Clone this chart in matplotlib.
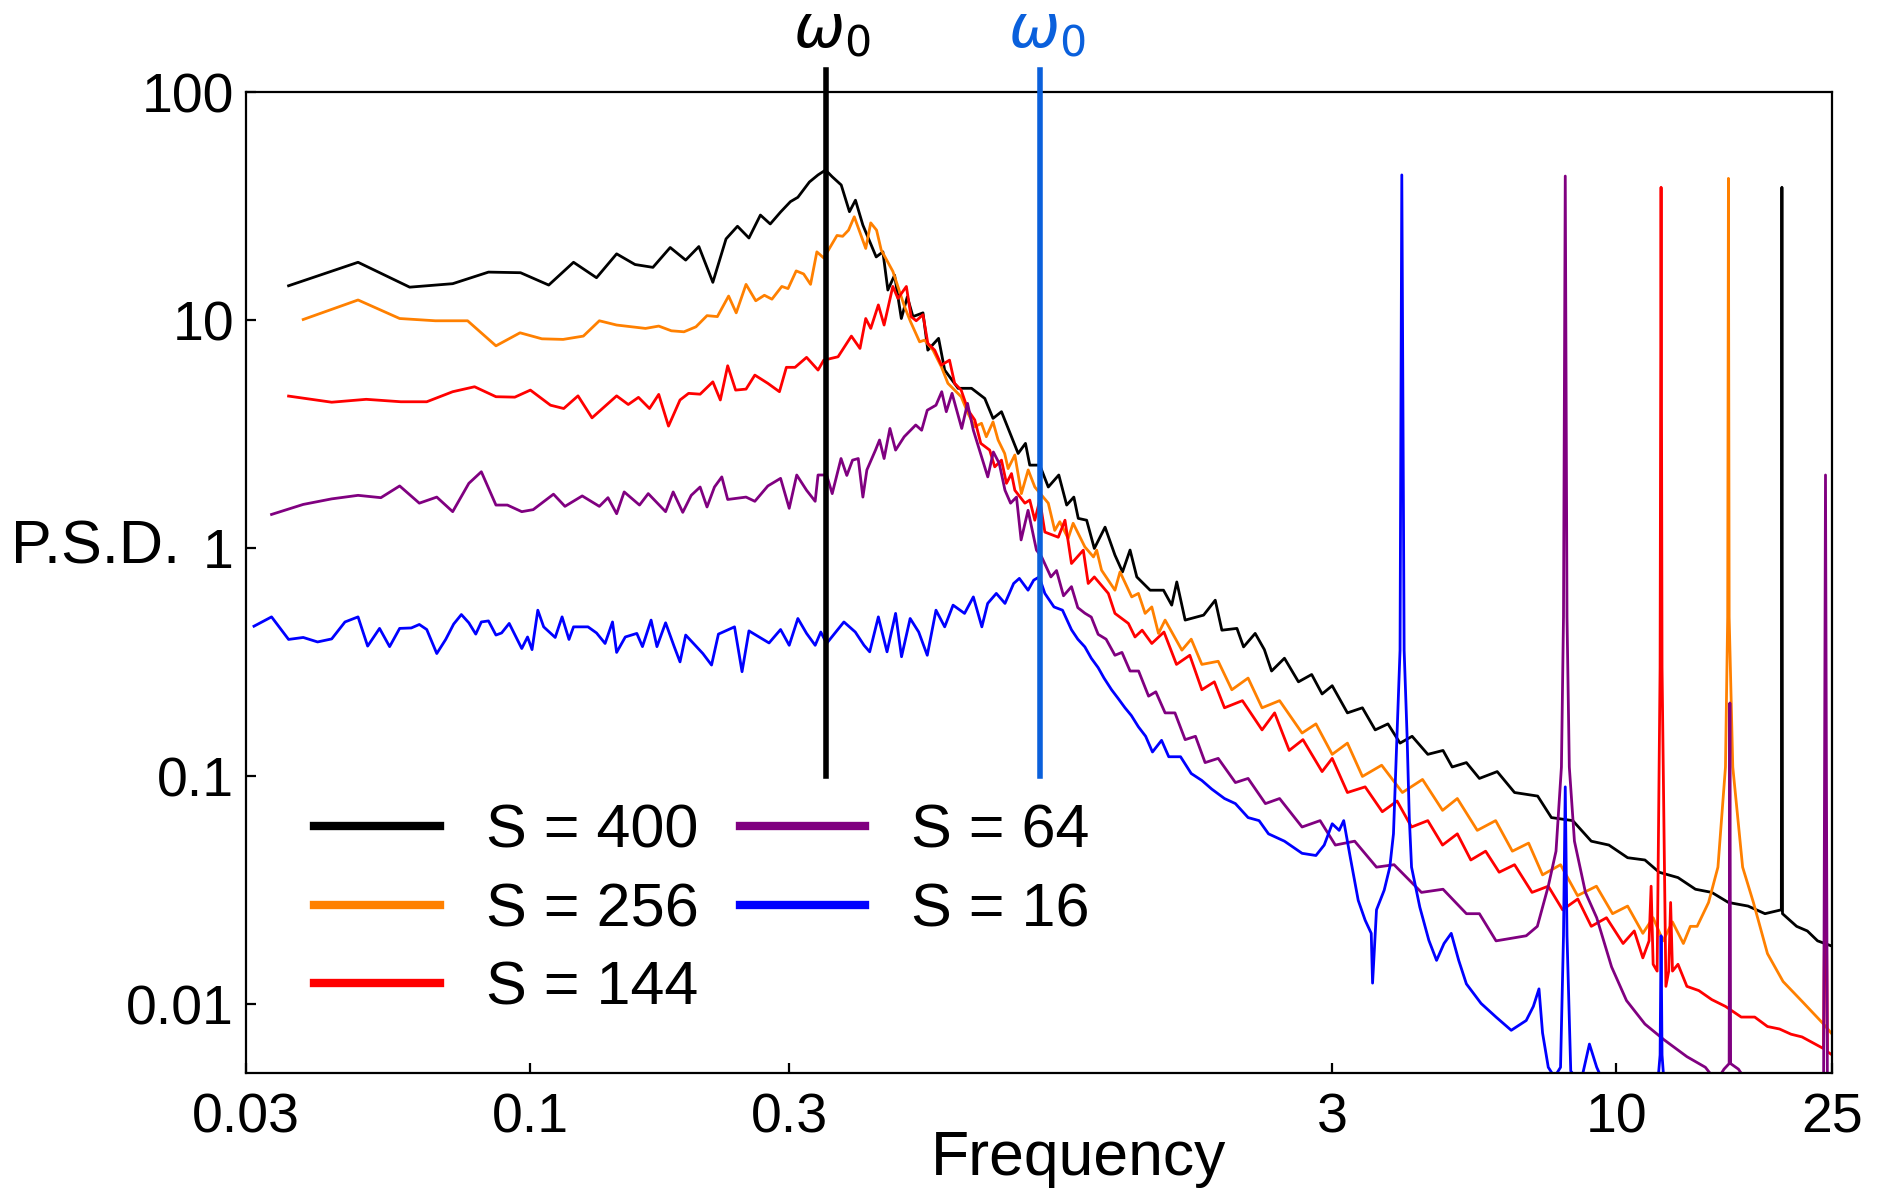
import matplotlib
matplotlib.use("Agg")
import matplotlib.pyplot as plt
from matplotlib.ticker import NullLocator
from matplotlib.transforms import blended_transform_factory

plt.rcParams["font.family"] = ["Liberation Sans", "DejaVu Sans"]
plt.rcParams["mathtext.fontset"] = "custom"
plt.rcParams["mathtext.it"] = "DejaVu Sans:italic"
plt.rcParams["mathtext.rm"] = "DejaVu Sans"

# (frequency, psd) pairs
s400 = [
    (0.0359, 14.2), (0.0482, 18.0), (0.0600, 14.0), (0.0720, 14.5), (0.0838, 16.3),
    (0.0960, 16.2), (0.1082, 14.3), (0.1202, 18.0), (0.1325, 15.4), (0.1443, 19.6),
    (0.156, 17.6), (0.1683, 17.1), (0.1811, 20.9), (0.1934, 18.4), (0.2045, 21.1),
    (0.217, 14.7), (0.2295, 22.8), (0.2409, 25.9), (0.2529, 23.0), (0.2655, 29.0),
    (0.2768, 26.5), (0.2892, 29.9), (0.3015, 33.2), (0.3112, 34.7), (0.3268, 40.5),
    (0.339, 43.5), (0.350, 45.7), (0.360, 42.7), (0.374, 39.3), (0.3873, 30.0),
    (0.3973, 33.7), (0.410, 26.2), (0.4338, 19.0), (0.4463, 20.0), (0.4558, 13.6),
    (0.469, 15.8), (0.4826, 10.2), (0.495, 12.7), (0.507, 10.4), (0.529, 10.8),
    (0.540, 7.41), (0.5652, 8.35), (0.580, 6.06), (0.614, 5.04), (0.650, 5.04),
    (0.6875, 4.55), (0.712, 3.72), (0.738, 3.98), (0.770, 3.09), (0.792, 2.61),
    (0.817, 2.89), (0.832, 2.32), (0.868, 2.32), (0.900, 1.86), (0.941, 2.10),
    (0.973, 1.55), (1.003, 1.68), (1.022, 1.355), (1.059, 1.33), (1.094, 1.0),
    (1.145, 1.24), (1.194, 0.935), (1.233, 0.789), (1.273, 0.984), (1.31, 0.750),
    (1.386, 0.656), (1.467, 0.656), (1.519, 0.564), (1.552, 0.713), (1.608, 0.485),
    (1.739, 0.510), (1.827, 0.593), (1.879, 0.438), (2.003, 0.446), (2.06, 0.370),
    (2.164, 0.424), (2.25, 0.36), (2.32, 0.29), (2.45, 0.33), (2.6, 0.26),
    (2.75, 0.28), (2.874, 0.23), (3.0, 0.25), (3.2, 0.19), (3.41, 0.20),
    (3.6, 0.16), (3.8, 0.17), (4.0, 0.14), (4.21, 0.15), (4.5, 0.125),
    (4.8, 0.13), (4.99, 0.11), (5.3, 0.115), (5.6, 0.098), (6.04, 0.105),
    (6.5, 0.085), (7.17, 0.082), (7.6, 0.066), (8.32, 0.064), (9.0, 0.052),
    (9.7, 0.05), (10.5, 0.044), (11.3, 0.043), (12.0, 0.038), (13.0, 0.036),
    (14.0, 0.032), (15.0, 0.031), (16.1, 0.028), (17.5, 0.027), (18.8, 0.025),
    (20.15, 0.026), (20.2, 38.4), (20.25, 0.025), (21.5, 0.022), (22.5, 0.021),
    (23.5, 0.019), (25.0, 0.018),
]

s256 = [
    (0.0382, 10.1), (0.0482, 12.3), (0.0575, 10.2), (0.0669, 9.97), (0.0767, 9.97),
    (0.0865, 7.74), (0.0958, 8.83), (0.1051, 8.31), (0.115, 8.26), (0.1253, 8.54),
    (0.1341, 9.97), (0.1443, 9.55), (0.1631, 9.23), (0.1725, 9.45), (0.182, 9.01),
    (0.192, 8.92), (0.202, 9.38), (0.2117, 10.5), (0.2212, 10.4), (0.232, 12.8),
    (0.2396, 10.8), (0.2498, 14.4), (0.2603, 12.2), (0.270, 12.9), (0.2788, 12.4),
    (0.2907, 14.1), (0.2985, 13.8), (0.309, 16.5), (0.3189, 16.0), (0.3284, 14.4),
    (0.3373, 20.0), (0.3473, 18.8), (0.3674, 23.6), (0.3763, 23.4), (0.3858, 24.9),
    (0.3953, 28.5), (0.415, 20.7), (0.4239, 26.8), (0.4345, 24.9), (0.4431, 20.4),
    (0.4657, 16.4), (0.4892, 11.5), (0.5019, 9.87), (0.5215, 8.06), (0.5326, 8.2),
    (0.552, 7.41), (0.572, 6.26), (0.588, 5.30), (0.622, 4.63), (0.6405, 3.91),
    (0.659, 3.42), (0.678, 3.54), (0.692, 3.09), (0.712, 3.59), (0.7275, 2.99),
    (0.748, 2.61), (0.759, 2.24), (0.781, 2.57), (0.803, 1.74), (0.8265, 2.21),
    (0.850, 1.86), (0.900, 1.58), (0.925, 1.20), (0.945, 1.31), (0.979, 1.107),
    (1.0, 1.29), (1.051, 1.016), (1.09, 0.918), (1.105, 0.983), (1.128, 0.803),
    (1.194, 0.656), (1.22, 0.789), (1.282, 0.613), (1.319, 0.635), (1.357, 0.519),
    (1.396, 0.554), (1.436, 0.424), (1.477, 0.485), (1.586, 0.358), (1.65, 0.40),
    (1.726, 0.31), (1.85, 0.32), (1.96, 0.24), (2.1, 0.27), (2.228, 0.20),
    (2.4, 0.215), (2.64, 0.155), (2.8, 0.17), (3.0, 0.125), (3.2, 0.14),
    (3.41, 0.10), (3.7, 0.112), (4.04, 0.085), (4.4, 0.097), (4.79, 0.071),
    (5.1, 0.08), (5.55, 0.058), (6.0, 0.064), (6.44, 0.047), (6.9, 0.051),
    (7.32, 0.037), (7.9, 0.041), (8.49, 0.030), (9.2, 0.033), (9.85, 0.025),
    (10.5, 0.027), (11.2, 0.0205), (11.7, 0.024), (12.2, 0.019), (12.7, 0.023),
    (13.3, 0.0185), (13.7, 0.022), (14.1, 0.022), (14.8, 0.028), (15.4, 0.04),
    (15.9, 0.11), (16.05, 0.5), (16.1, 42.0), (16.15, 0.5), (16.4, 0.11),
    (17.1, 0.04), (17.9, 0.028), (19.0, 0.0167), (20.3, 0.0126), (22.1, 0.0102),
    (24.1, 0.0082), (25.0, 0.0074),
]

s144 = [
    (0.0359, 4.66), (0.0431, 4.38), (0.0499, 4.51), (0.0578, 4.40), (0.0645, 4.40),
    (0.072, 4.87), (0.079, 5.12), (0.0865, 4.63), (0.0937, 4.61), (0.1001, 4.95),
    (0.109, 4.25), (0.1153, 4.11), (0.1225, 4.67), (0.130, 3.74), (0.1443, 4.67),
    (0.1516, 4.28), (0.1583, 4.60), (0.1659, 4.11), (0.1725, 4.74), (0.1798, 3.44),
    (0.1888, 4.48), (0.1958, 4.79), (0.2056, 4.75), (0.217, 5.38), (0.224, 4.48),
    (0.2311, 6.33), (0.239, 4.95), (0.2498, 5.0), (0.2593, 5.76), (0.274, 5.30),
    (0.2878, 4.87), (0.2964, 6.23), (0.3075, 6.23), (0.3229, 6.89), (0.339, 6.06),
    (0.3473, 6.70), (0.369, 6.93), (0.3905, 8.54), (0.405, 7.54), (0.415, 10.2),
    (0.4239, 9.23), (0.4378, 11.7), (0.4486, 9.55), (0.4655, 14.1), (0.4757, 12.5),
    (0.493, 14.1), (0.503, 10.4), (0.514, 9.97), (0.529, 10.6), (0.540, 7.94),
    (0.556, 7.41), (0.572, 6.37), (0.592, 6.70), (0.605, 5.30), (0.622, 4.95),
    (0.6405, 4.04), (0.659, 3.66), (0.676, 2.89), (0.702, 2.70), (0.7172, 2.28),
    (0.738, 2.44), (0.7537, 1.93), (0.77, 2.13), (0.781, 1.80), (0.815, 1.58),
    (0.832, 1.63), (0.850, 1.33), (0.868, 1.63), (0.887, 1.18), (0.939, 1.12),
    (0.966, 1.33), (0.993, 0.859), (1.044, 0.983), (1.066, 0.702), (1.094, 0.750),
    (1.161, 0.635), (1.194, 0.519), (1.264, 0.469), (1.30, 0.409), (1.34, 0.438),
    (1.396, 0.383), (1.47, 0.43), (1.55, 0.31), (1.64, 0.34), (1.726, 0.24),
    (1.82, 0.26), (1.9, 0.20), (2.05, 0.215), (2.228, 0.16), (2.35, 0.19),
    (2.5, 0.13), (2.65, 0.145), (2.874, 0.105), (3.0, 0.12), (3.2, 0.085),
    (3.45, 0.09), (3.71, 0.07), (3.95, 0.078), (4.2, 0.06), (4.5, 0.064),
    (4.79, 0.05), (5.1, 0.056), (5.4, 0.043), (5.75, 0.047), (6.09, 0.038),
    (6.5, 0.041), (7.0, 0.031), (7.5, 0.033), (7.97, 0.026), (8.5, 0.029),
    (9.0, 0.022), (9.6, 0.024), (10.3, 0.0185), (10.8, 0.021), (11.2, 0.016),
    (11.5, 0.019), (11.6, 0.033), (11.7, 0.015), (11.9, 0.014), (12.05, 0.3),
    (12.1, 38.4), (12.15, 0.3), (12.35, 0.012), (12.5, 0.014), (12.6, 0.028),
    (12.7, 0.014), (13.0, 0.015), (13.5, 0.012), (14.2, 0.0115), (15.0, 0.0105),
    (15.9, 0.0098), (17.0, 0.0088), (18.0, 0.0088), (19.0, 0.0080), (20.0, 0.0078),
    (21.0, 0.0074), (22.0, 0.0072), (23.0, 0.0068), (24.1, 0.0064), (24.3, 0.078),
    (24.5, 0.0062), (25.0, 0.006),
]

s64 = [
    (0.0334, 1.41), (0.0382, 1.56), (0.0431, 1.65), (0.0482, 1.71), (0.0531, 1.67),
    (0.0575, 1.88), (0.0625, 1.58), (0.0673, 1.68), (0.072, 1.45), (0.0771, 1.93),
    (0.0813, 2.17), (0.0865, 1.55), (0.0908, 1.55), (0.0965, 1.45), (0.1013, 1.48),
    (0.1104, 1.73), (0.1159, 1.53), (0.1247, 1.70), (0.1341, 1.53), (0.1391, 1.67),
    (0.1443, 1.42), (0.149, 1.77), (0.159, 1.55), (0.165, 1.74), (0.1776, 1.45),
    (0.1834, 1.77), (0.191, 1.44), (0.198, 1.71), (0.2056, 1.86), (0.2117, 1.52),
    (0.2185, 1.86), (0.2254, 2.06), (0.2311, 1.64), (0.2498, 1.68), (0.2593, 1.61),
    (0.274, 1.88), (0.2892, 2.03), (0.30, 1.50), (0.3097, 2.10), (0.3229, 1.80),
    (0.3349, 1.61), (0.339, 2.10), (0.3515, 2.10), (0.360, 1.74), (0.3737, 2.48),
    (0.383, 2.09), (0.3924, 2.44), (0.402, 2.48), (0.410, 1.68), (0.417, 2.21),
    (0.4325, 2.70), (0.44, 2.99), (0.4486, 2.48), (0.4598, 3.36), (0.471, 2.70),
    (0.4885, 3.09), (0.513, 3.48), (0.526, 3.30), (0.5387, 4.04), (0.559, 4.25),
    (0.5728, 4.87), (0.584, 3.98), (0.5984, 4.79), (0.6235, 3.36), (0.639, 4.33),
    (0.655, 3.30), (0.6963, 2.06), (0.713, 2.65), (0.731, 2.36), (0.749, 1.80),
    (0.767, 1.58), (0.7865, 1.68), (0.802, 1.09), (0.826, 1.47), (0.856, 0.983),
    (0.875, 0.918), (0.91, 0.75), (0.932, 0.80), (0.96, 0.62), (0.993, 0.68),
    (1.02, 0.55), (1.051, 0.52), (1.08, 0.50), (1.112, 0.42), (1.15, 0.40),
    (1.194, 0.34), (1.23, 0.35), (1.273, 0.29), (1.32, 0.29), (1.377, 0.225),
    (1.42, 0.235), (1.477, 0.19), (1.54, 0.19), (1.608, 0.145), (1.68, 0.15),
    (1.75, 0.115), (1.85, 0.12), (1.99, 0.094), (2.1, 0.098), (2.26, 0.076),
    (2.4, 0.08), (2.64, 0.06), (2.85, 0.064), (3.04, 0.05), (3.3, 0.052),
    (3.62, 0.04), (3.9, 0.041), (4.38, 0.031), (4.8, 0.032), (5.3, 0.025),
    (5.6, 0.025), (6.01, 0.019), (6.41, 0.0195), (6.83, 0.02), (7.16, 0.022),
    (7.5, 0.033), (7.75, 0.047), (7.93, 0.11), (8.0, 0.5), (8.06, 43.0),
    (8.12, 0.5), (8.2, 0.11), (8.38, 0.052), (8.78, 0.031), (9.21, 0.024),
    (9.81, 0.0146), (10.45, 0.0104), (11.3, 0.0082), (12.25, 0.0070), (13.5, 0.0059),
    (14.6, 0.0053), (15.3, 0.0046), (15.8, 0.0052), (16.15, 0.0055), (16.2, 0.21),
    (16.25, 0.0055), (16.8, 0.0052), (17.5, 0.0045), (20.0, 0.004), (24.1, 0.0038),
    (24.3, 2.1), (24.5, 0.0038), (25.0, 0.0037),
]

s16 = [
    (0.0310, 0.456), (0.0334, 0.501), (0.0359, 0.399), (0.0382, 0.407), (0.0406, 0.389),
    (0.0431, 0.401), (0.0456, 0.476), (0.0482, 0.501), (0.0502, 0.373), (0.0528, 0.446),
    (0.0551, 0.371), (0.0575, 0.446), (0.0604, 0.448), (0.0625, 0.464), (0.0645, 0.441),
    (0.0673, 0.346), (0.0699, 0.399), (0.0723, 0.466), (0.0747, 0.513), (0.0771, 0.472),
    (0.0794, 0.421), (0.0813, 0.476), (0.0838, 0.481), (0.0865, 0.417), (0.0886, 0.426),
    (0.0915, 0.469), (0.0965, 0.364), (0.0989, 0.409), (0.1008, 0.36), (0.1033, 0.536),
    (0.1059, 0.453), (0.1112, 0.407), (0.1145, 0.501), (0.1179, 0.399), (0.1202, 0.453),
    (0.1278, 0.453), (0.1325, 0.426), (0.1374, 0.383), (0.1418, 0.476), (0.1443, 0.350),
    (0.1497, 0.409), (0.1572, 0.424), (0.161, 0.371), (0.167, 0.485), (0.1712, 0.371),
    (0.1776, 0.472), (0.1842, 0.371), (0.1888, 0.318), (0.1934, 0.417), (0.208, 0.346),
    (0.2158, 0.308), (0.2222, 0.421), (0.2379, 0.453), (0.2456, 0.288), (0.2529, 0.435),
    (0.2754, 0.385), (0.2892, 0.441), (0.30, 0.376), (0.3112, 0.493), (0.3229, 0.424),
    (0.3349, 0.376), (0.343, 0.430), (0.3515, 0.383), (0.3783, 0.476), (0.397, 0.430),
    (0.412, 0.376), (0.422, 0.352), (0.4378, 0.501), (0.4542, 0.352), (0.471, 0.519),
    (0.483, 0.335), (0.501, 0.493), (0.5195, 0.430), (0.5387, 0.340), (0.559, 0.536),
    (0.58, 0.453), (0.601, 0.564), (0.631, 0.519), (0.655, 0.613), (0.679, 0.453),
    (0.696, 0.574), (0.722, 0.635), (0.749, 0.574), (0.777, 0.702), (0.796, 0.739),
    (0.826, 0.656), (0.846, 0.726), (0.866, 0.750), (0.887, 0.635), (0.922, 0.554),
    (0.956, 0.536), (0.993, 0.44), (1.02, 0.40), (1.051, 0.37), (1.08, 0.33),
    (1.112, 0.30), (1.14, 0.27), (1.177, 0.24), (1.21, 0.22), (1.246, 0.20),
    (1.28, 0.185), (1.319, 0.165), (1.36, 0.15), (1.40, 0.128), (1.455, 0.144),
    (1.5, 0.122), (1.577, 0.122), (1.65, 0.103), (1.726, 0.096), (1.8, 0.088),
    (1.9, 0.08), (1.99, 0.076), (2.1, 0.066), (2.2, 0.064), (2.29, 0.056),
    (2.45, 0.052), (2.64, 0.046), (2.8, 0.045), (2.9, 0.05), (3.0, 0.062),
    (3.09, 0.058), (3.15, 0.064), (3.24, 0.044), (3.35, 0.0286), (3.45, 0.0234),
    (3.54, 0.0205), (3.56, 0.0124), (3.62, 0.026), (3.74, 0.0317), (3.83, 0.040),
    (3.89, 0.056), (3.95, 0.154), (4.0, 0.358), (4.03, 43.5), (4.07, 0.358),
    (4.12, 0.154), (4.16, 0.066), (4.2, 0.040), (4.35, 0.0267), (4.52, 0.0191),
    (4.67, 0.0156), (4.82, 0.0185), (4.97, 0.0205), (5.13, 0.0156), (5.3, 0.0123),
    (5.64, 0.0101), (6.01, 0.0088), (6.41, 0.0077), (6.83, 0.0085), (7.04, 0.0098),
    (7.21, 0.0117), (7.32, 0.0075), (7.5, 0.0053), (7.7, 0.0048), (7.9, 0.0053),
    (8.0, 0.02), (8.06, 0.09), (8.12, 0.02), (8.25, 0.0051), (8.6, 0.0045),
    (8.93, 0.0067), (9.21, 0.0053), (9.5, 0.0045), (10.5, 0.004), (11.9, 0.0042),
    (12.05, 0.006), (12.1, 0.02), (12.15, 0.006), (12.3, 0.004), (25.0, 0.003),
]

series = [s400, s256, s144, s64, s16]
labels = ["S = 400", "S = 256", "S = 144", "S = 64", "S = 16"]
colors = ["black", "#ff8000", "#ff0000", "#800080", "#0000ff"]

omega_black = 0.35
omega_blue = 0.87

xticks = [0.03, 0.1, 0.3, 3, 10, 25]
xticklabels = ["0.03", "0.1", "0.3", "3", "10", "25"]
yticks = [0.01, 0.1, 1, 10, 100]
yticklabels = ["0.01", "0.1", "1", "10", "100"]

fig = plt.figure(figsize=(9.42, 5.96), dpi=200)
ax = fig.add_axes([0.1307, 0.0998, 0.8418, 0.8226])

for data, lab, col in zip(series, labels, colors):
    f = [d[0] for d in data]
    p = [d[1] for d in data]
    ax.plot(f, p, color=col, lw=1.0, label=lab)

ax.set_xscale("log")
ax.set_yscale("log")
ax.set_xlim(0.03, 25)
ax.set_ylim(0.005, 100)

ax.set_xticks(xticks)
ax.set_xticklabels(xticklabels)
ax.set_yticks(yticks)
ax.set_yticklabels(yticklabels)
ax.xaxis.set_minor_locator(NullLocator())
ax.yaxis.set_minor_locator(NullLocator())
ax.tick_params(direction="in", length=3.6, width=0.8, labelsize=20)
ax.tick_params(axis="x", pad=7)
ax.tick_params(axis="y", pad=4.4)
for sp in ax.spines.values():
    sp.set_linewidth(0.8)

# omega_0 markers
ax.plot([omega_black, omega_black], [0.1, 125], color="black", lw=2.0, clip_on=False, zorder=5)
ax.plot([omega_blue, omega_blue], [0.1, 125], color="#0a60dc", lw=2.0, clip_on=False, zorder=5)
tr = blended_transform_factory(ax.transData, ax.transAxes)
ax.text(0.36, 1.062, r"$\omega_{\mathit{0}}$", transform=tr, ha="center", va="center",
        fontsize=22, color="black")
ax.text(0.893, 1.062, r"$\omega_{\mathit{0}}$", transform=tr, ha="center", va="center",
        fontsize=22, color="#0a60dc")

ax.set_ylabel("P.S.D.", rotation=0, fontsize=22, ha="right", va="center")
ax.yaxis.set_label_coords(-0.0418, 0.535)
ax.set_xlabel("Frequency", fontsize=22.5)
ax.xaxis.set_label_coords(0.525, -0.087)
ax.xaxis.label.set_va("center")

leg = ax.legend(ncol=2, loc="upper left", bbox_to_anchor=(0.043, 0.275), frameon=False,
                fontsize=22, handlelength=2.05, handletextpad=0.75, columnspacing=0.68,
                labelspacing=0.355, borderpad=0, borderaxespad=0)
for line in leg.get_lines():
    line.set_linewidth(3.0)

fig.savefig("out.png", dpi=200)
